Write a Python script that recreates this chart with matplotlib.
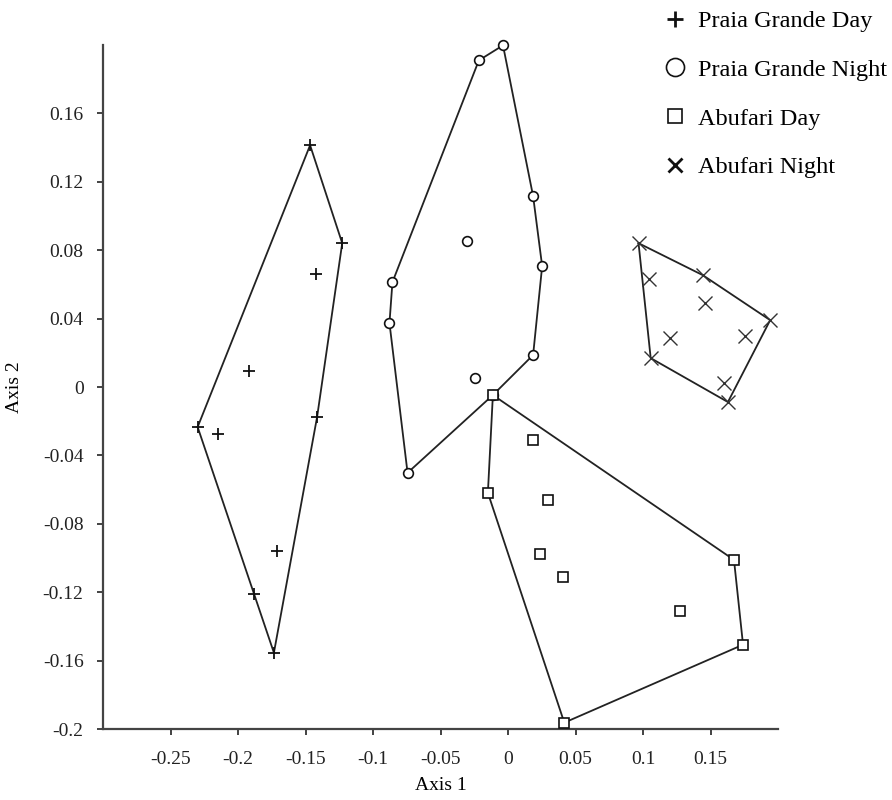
# ------------------------------------------------------------------------------
# LIBRARIES
# ------------------------------------------------------------------------------
import numpy as np
import matplotlib
matplotlib.use('Agg')
import matplotlib.pyplot as plt
from matplotlib.lines import Line2D

plt.rcParams['font.family'] = ['Liberation Serif', 'DejaVu Serif']

# ------------------------------------------------------------------------------
# DATA (Axis 1, Axis 2 scores)
# ------------------------------------------------------------------------------
pg_day_x = [-0.1466, -0.1228, -0.1421, -0.1920, -0.2299, -0.2150, -0.1414, -0.1711, -0.1880, -0.1734]
pg_day_y = [0.1414, 0.0841, 0.0660, 0.0093, -0.0234, -0.0275, -0.0175, -0.0958, -0.1209, -0.1554]

# last point sits under an Abufari Day square (the hull passes through it)
pg_night_x = [-0.0037, -0.0216, 0.0186, -0.0305, 0.0253, -0.0856, -0.0878, 0.0186, -0.0246, -0.0744, -0.0112]
pg_night_y = [0.1998, 0.1910, 0.1116, 0.0853, 0.0707, 0.0613, 0.0374, 0.0187, 0.0053, -0.0502, -0.0047]

ab_day_x = [-0.0112, 0.0186, -0.0149, 0.0298, 0.0238, 0.0409, 0.1674, 0.1272, 0.1741, 0.0417]
ab_day_y = [-0.0047, -0.0310, -0.0619, -0.0660, -0.0975, -0.1110, -0.1011, -0.1308, -0.1507, -0.1963]

ab_night_x = [0.0967, 0.1042, 0.1443, 0.1458, 0.1942, 0.1198, 0.1756, 0.1057, 0.1600, 0.1629]
ab_night_y = [0.0841, 0.0631, 0.0654, 0.0491, 0.0391, 0.0286, 0.0298, 0.0169, 0.0023, -0.0088]

labels = ['Praia Grande Day', 'Praia Grande Night', 'Abufari Day', 'Abufari Night']
x_ticks = [-0.25, -0.2, -0.15, -0.1, -0.05, 0, 0.05, 0.1, 0.15]
y_ticks = [-0.2, -0.16, -0.12, -0.08, -0.04, 0, 0.04, 0.08, 0.12, 0.16]

# ------------------------------------------------------------------------------
# FUNCTION DEF
# ------------------------------------------------------------------------------
def hull(x, y):
    # convex hull (monotone chain), returned closed
    pts = sorted(set(zip(x, y)))
    def cross(o, a, b):
        return (a[0]-o[0])*(b[1]-o[1]) - (a[1]-o[1])*(b[0]-o[0])
    lower, upper = [], []
    for p in pts:
        while len(lower) >= 2 and cross(lower[-2], lower[-1], p) <= 0:
            lower.pop()
        lower.append(p)
    for p in reversed(pts):
        while len(upper) >= 2 and cross(upper[-2], upper[-1], p) <= 0:
            upper.pop()
        upper.append(p)
    h = lower[:-1] + upper[:-1]
    h.append(h[0])
    return np.array(h)

def fmt(v):
    s = ('%.2f' % v).rstrip('0').rstrip('.')
    return '0' if s in ('0', '-0') else s

# ------------------------------------------------------------------------------
# PLOT
# ------------------------------------------------------------------------------
fig = plt.figure(figsize=(8.92, 8.0), dpi=100)
ax = fig.add_axes([103/892, 1-729/800, (778-103)/892, (729-45)/800])

groups = [(pg_day_x, pg_day_y), (pg_night_x, pg_night_y), (ab_day_x, ab_day_y), (ab_night_x, ab_night_y)]
for gx, gy in groups:
    h = hull(gx, gy)
    ax.plot(h[:, 0], h[:, 1], color='#222222', lw=1.3, zorder=2, clip_on=False)

ax.plot(pg_day_x, pg_day_y, ls='none', marker='+', ms=9, mew=1.3, color='#111111', zorder=3, clip_on=False)
ax.plot(pg_night_x, pg_night_y, ls='none', marker='o', ms=7, mew=1.2, mfc='white', mec='#111111', zorder=3, clip_on=False)
ax.plot(ab_day_x, ab_day_y, ls='none', marker='s', ms=7.5, mew=1.2, mfc='white', mec='#111111', zorder=4, clip_on=False)
ax.plot(ab_night_x, ab_night_y, ls='none', marker='x', ms=10, mew=1.0, color='#333333', zorder=3, clip_on=False)

ax.set_xlim(-0.3, 0.2)
ax.set_ylim(-0.2, 0.2)
ax.set_xticks(x_ticks)
ax.set_xticklabels([fmt(v) for v in x_ticks])
ax.set_yticks(y_ticks)
ax.set_yticklabels([fmt(v) for v in y_ticks])
ax.tick_params(axis='x', length=4, width=1.2, pad=12, labelsize=14, colors='#222222')
ax.tick_params(axis='y', length=4, width=1.2, pad=10, labelsize=14, colors='#222222')
for s in ['top', 'right']:
    ax.spines[s].set_visible(False)
for s in ['left', 'bottom']:
    ax.spines[s].set_linewidth(1.6)
    ax.spines[s].set_color('#444444')
ax.set_xlabel('Axis 1', fontsize=14, labelpad=6)
ax.set_ylabel('Axis 2', fontsize=14, labelpad=14)

handles = [
    Line2D([], [], ls='none', marker='+', ms=12, mew=2.0, color='#111111'),
    Line2D([], [], ls='none', marker='o', ms=13, mew=1.2, mfc='white', mec='#111111'),
    Line2D([], [], ls='none', marker='s', ms=10, mew=1.2, mfc='white', mec='#111111'),
    Line2D([], [], ls='none', marker='x', ms=10, mew=2.0, color='#111111'),
]
fig.legend(handles, labels, loc='upper left', bbox_to_anchor=(663/892, 1-10/800),
           frameon=False, fontsize=17.5, handlelength=1.0, handletextpad=0.45,
           labelspacing=1.1, borderpad=0, borderaxespad=0)

plt.savefig('out.png', dpi=100)
